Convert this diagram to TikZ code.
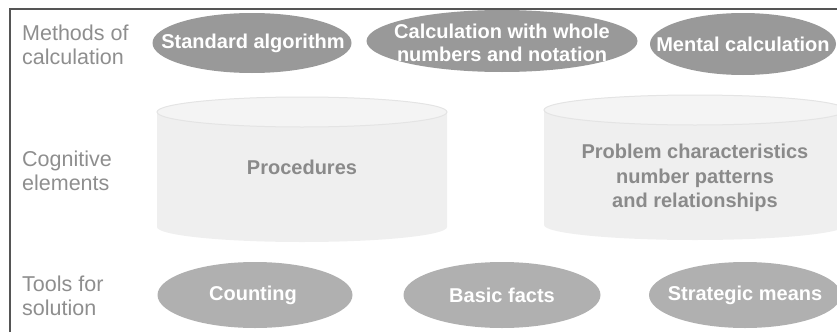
\documentclass[tikz,border=0pt]{standalone}
\usepackage{fontspec}
\setmainfont{Liberation Sans}
\usetikzlibrary{shapes.geometric}
\definecolor{topfill}{HTML}{999999}
\definecolor{botfill}{HTML}{B0B0B0}
\definecolor{labelgray}{HTML}{8E8E8E}
\definecolor{cylbody}{HTML}{EFEFEF}
\definecolor{cyltop}{HTML}{F4F4F4}
\definecolor{cyledge}{HTML}{E4E4E4}
\definecolor{cyltext}{HTML}{8A8A8A}
\definecolor{framegray}{HTML}{555555}
\tikzset{
  rowlabel/.style={anchor=west, align=left, text=labelgray, inner sep=0pt,
    font=\fontsize{21.5}{24.5}\selectfont},
  topfillst/.style={fill=topfill},
  botfillst/.style={fill=botfill},
  toptxt/.style={text=white, inner sep=0pt, align=center,
    font=\bfseries\fontsize{20}{23.5}\selectfont},
  bottxt/.style={text=white, inner sep=0pt, align=center,
    font=\bfseries\fontsize{20}{24}\selectfont},
  cyltxt/.style={text=cyltext, align=center, inner sep=0pt,
    font=\bfseries\fontsize{20}{24.5}\selectfont},
  cylside/.style={fill=cylbody},
  cylcap/.style={fill=cyltop, draw=cyledge, line width=1pt},
  frameline/.style={draw=framegray, line width=1.4pt}
}
\begin{document}
\begin{tikzpicture}[x=1pt,y=-1pt]
\useasboundingbox (0,0) rectangle (837,332);
\clip (0,0) rectangle (837,332);
% frame
\coordinate (fa) at (10,332);
\coordinate (fb) at (10,9);
\coordinate (fc) at (837,9);
\draw[frameline] (fa) -- (fb) -- (fc);
% row labels
\node[rowlabel] (l1) at (22,45) {Methods of\\calculation};
\node[rowlabel] (l2) at (22,171) {Cognitive\\elements};
\node[rowlabel] (l3) at (22,296) {Tools for\\solution};
% top ellipses
\fill[topfillst] (252,43) ellipse[x radius=99.5, y radius=30];
\node[toptxt] (sa) at (253,43) {Standard algorithm};
\fill[topfillst] (502,41) ellipse[x radius=135.5, y radius=31];
\node[toptxt] (cw) at (502,43) {Calculation with whole\\numbers and notation};
\fill[topfillst] (743,44) ellipse[x radius=93, y radius=31];
\node[toptxt] (mc) at (743,44) {Mental calculation};
% cylinders
\fill[cylside] (157,112) -- (157,227) arc[start angle=180, end angle=0, x radius=145, y radius=15] -- (447,112) -- cycle;
\draw[cylcap] (302,112) ellipse[x radius=145, y radius=15];
\node[cyltxt] (proc) at (302,167) {Procedures};
\fill[cylside] (544,110) -- (544,225) arc[start angle=180, end angle=0, x radius=151, y radius=15] -- (846,110) -- cycle;
\draw[cylcap] (695,110) ellipse[x radius=151, y radius=15];
\node[cyltxt] (prob) at (695,178) {Problem characteristics\\number patterns\\and relationships};
% bottom ellipses
\fill[botfillst] (255,295) ellipse[x radius=97.5, y radius=33];
\node[bottxt] (cnt) at (253,295) {Counting};
\fill[botfillst] (502,295) ellipse[x radius=98.5, y radius=33];
\node[bottxt] (bf) at (502,295) {Basic facts};
\fill[botfillst] (745,295) ellipse[x radius=96, y radius=33];
\node[bottxt] (sm) at (745,295) {Strategic means};
\end{tikzpicture}
\end{document}
